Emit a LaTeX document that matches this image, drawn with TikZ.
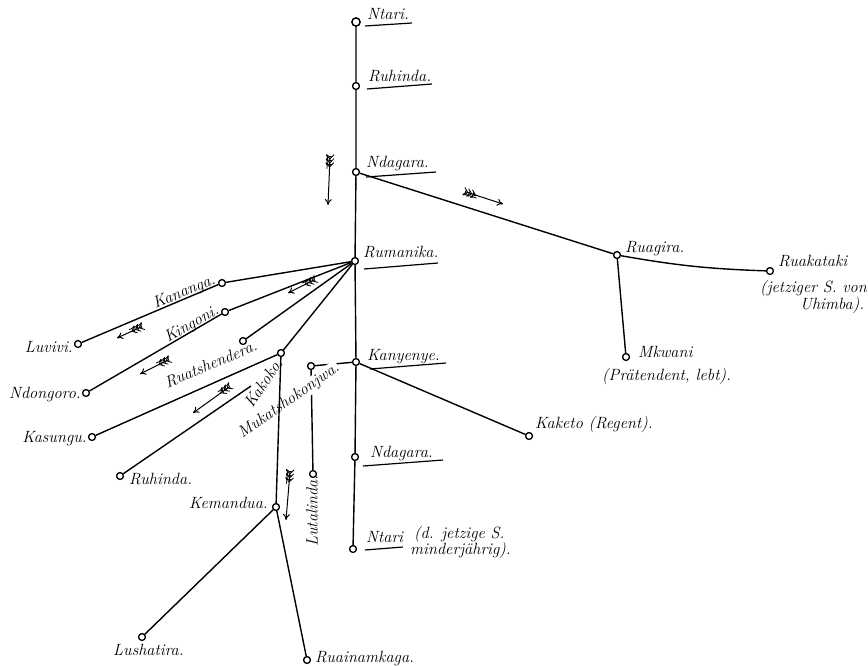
\documentclass[tikz,border=0pt]{standalone}
\usetikzlibrary{arrows.meta,decorations.markings}
\begin{document}
\begin{tikzpicture}[x=1pt,y=-1pt,
  ln/.style={line width=1.4pt},
  ul/.style={line width=1.2pt},
  dot/.style={circle, draw, fill=white, line width=1.1pt, minimum size=7pt, inner sep=0pt},
  lab/.style={font=\fontsize{16.3}{18}\selectfont\itshape, inner sep=0pt},
  fletch/.style={line width=1pt, -{To[length=6pt,width=7pt]},
    postaction={decorate},
    decoration={markings,
      mark=at position 2pt with {\draw[line width=0.8pt] (-4.5pt,4pt) -- (0pt,0pt) -- (-4.5pt,-4pt);},
      mark=at position 6pt with {\draw[line width=0.8pt] (-4.5pt,4pt) -- (0pt,0pt) -- (-4.5pt,-4pt);},
      mark=at position 10pt with {\draw[line width=0.8pt] (-4.5pt,4pt) -- (0pt,0pt) -- (-4.5pt,-4pt);}}}
]
\useasboundingbox[fill=white] (0,0) rectangle (868,665);

% trunk
\node[dot, minimum size=8.5pt] (t1) at (356,22) {};
\node[dot] (t2) at (356,86) {};
\node[dot] (t3) at (356,172) {};
\node[dot] (t4) at (355,261) {};
\node[dot] (t5) at (356,362) {};
\node[dot] (t6) at (355,457) {};
\node[dot] (t7) at (353,549) {};

% other persons
\node[dot] (ruagira) at (617,255) {};
\node[dot] (ruakataki) at (770,271) {};
\node[dot] (mkwani) at (626,357) {};
\node[dot] (kaketo) at (529,436) {};
\node[dot] (kananga) at (222,283) {};
\node[dot] (luvivi) at (78,344) {};
\node[dot] (kingoni) at (225,312) {};
\node[dot] (ndongoro) at (86,393) {};
\node[dot] (ruatsh) at (243,341) {};
\node[dot] (kakoko) at (281,353) {};
\node[dot] (kasungu) at (92,437) {};
\node[dot] (ruhinda) at (120,476) {};
\node[dot] (kemandua) at (276,507) {};
\node[dot] (lushatira) at (142,637) {};
\node[dot] (ruainam) at (307,660) {};
\node[dot] (muk) at (311,366) {};
\node[dot] (lutal) at (313,474) {};
\coordinate (ruhE) at (251,386);

% connectors
\draw[ln] (t1) -- (t2) -- (t3) -- (t4) -- (t5) -- (t6) -- (t7);
\draw[ln] (t3) -- (ruagira);
\draw[ln] (ruagira) to[bend right=4] (ruakataki);
\draw[ln] (ruagira) -- (mkwani);
\draw[ln] (t5) -- (kaketo);
\draw[ln] (t4) -- (kananga) -- (luvivi);
\draw[ln] (t4) -- (kingoni) -- (ndongoro);
\draw[ln] (t4) -- (ruatsh);
\draw[ln] (t4) -- (kakoko) -- (kasungu);
\draw[ln] (ruhinda) -- (ruhE);
\draw[ln] (t5) -- (muk) -- (lutal);
\node[lab, fill=white, inner sep=0.6pt, rotate=35] (lMuk) at (289,401) {Mukatshokonjwa.};
\draw[ln] (kakoko) -- (kemandua) -- (lushatira);
\draw[ln] (kemandua) -- (ruainam);

% redraw dots on top
\foreach \n in {t2,t3,t4,t5,t6,t7,ruagira,ruakataki,mkwani,kaketo,kananga,luvivi,kingoni,ndongoro,ruatsh,kakoko,kasungu,ruhinda,kemandua,lushatira,ruainam,muk,lutal}
  \draw[line width=1.1pt, fill=white] (\n.center) circle (3.3pt);
\draw[line width=1.2pt, fill=white] (t1.center) circle (4pt);

% underlines
\draw[ul] (365,26) -- (412,23);
\draw[ul] (367,89) -- (432,84);
\draw[ul] (366,177) -- (436,172);
\draw[ul] (364,269) -- (438,263);
\draw[ul] (370,369) -- (446,363);
\draw[ul] (363,466) -- (443,460);
\draw[ul] (365,550) -- (403,547);

% trunk labels
\node[lab, anchor=base west] (lT1) at (367,19) {Ntari.};
\node[lab, anchor=base west] (lT2) at (368,81) {Ruhinda.};
\node[lab, anchor=base west] (lT3) at (366,167) {Ndagara.};
\node[lab, anchor=base west] (lT4) at (363,257) {Rumanika.};
\node[lab, anchor=base west] (lT5) at (367,360) {Kanyenye.};
\node[lab, anchor=base west] (lT6) at (370,457) {Ndagara.};
\node[lab, anchor=base west] (lT7) at (366,542) {Ntari};
\node[lab, anchor=base west] (lT7a) at (414,538) {(d. jetzige S.};
\node[lab, anchor=base west] (lT7b) at (410,554) {minderjährig).};

% right side labels
\node[lab, anchor=base west] (lRuagira) at (625,252) {Ruagira.};
\node[lab, anchor=base west] (lRuak1) at (778,266) {Ruakataki};
\node[lab, anchor=base east] (lRuak2) at (867,292) {(jetziger S. von};
\node[lab, anchor=base west] (lRuak3) at (800,309) {Uhimba).};
\node[lab, anchor=base west] (lMkwani) at (638,357) {Mkwani};
\node[lab, anchor=base west] (lMkwani2) at (602,380) {(Prätendent, lebt).};
\node[lab, anchor=base west] (lKaketo) at (535,428) {Kaketo (Regent).};

% left side labels
\node[lab, anchor=base east] (lLuvivi) at (73,352) {Luvivi.};
\node[lab, anchor=base east] (lNdongoro) at (81,398) {Ndongoro.};
\node[lab, anchor=base east] (lKasungu) at (87,442) {Kasungu.};
\node[lab, anchor=base west] (lRuhinda) at (129,484) {Ruhinda.};
\node[lab, anchor=base east] (lKemandua) at (268,508) {Kemandua.};
\node[lab, anchor=base west] (lLushatira) at (113,655) {Lushatira.};
\node[lab, anchor=base west] (lRuainam) at (315,662) {Ruainamkaga.};
\node[lab, anchor=base, rotate=23] (lKananga) at (186,296) {Kananga.};
\node[lab, anchor=base, rotate=30] (lKingoni) at (194,328) {Kingoni.};
\node[lab, anchor=base, rotate=23] (lRuatsh) at (213,369) {Ruatshendera.};
\node[lab, anchor=base, rotate=56] (lKakoko) at (268,386) {Kakoko.};
\node[lab, rotate=90] (lLutal) at (312,511) {Lutalinda.};

% fletched arrows
\coordinate (a1s) at (330,157); \coordinate (a1e) at (328,205);
\coordinate (a2s) at (466,192); \coordinate (a2e) at (503,204);
\coordinate (a3s) at (314,280); \coordinate (a3e) at (288,293);
\coordinate (a4s) at (141,327); \coordinate (a4e) at (117,338);
\coordinate (a5s) at (168,360); \coordinate (a5e) at (140,374);
\coordinate (a6s) at (229,387); \coordinate (a6e) at (193,413);
\coordinate (a7s) at (290,472); \coordinate (a7e) at (286,520);
\foreach \a in {1,...,7} \draw[fletch] (a\a s) -- (a\a e);
\end{tikzpicture}
\end{document}
